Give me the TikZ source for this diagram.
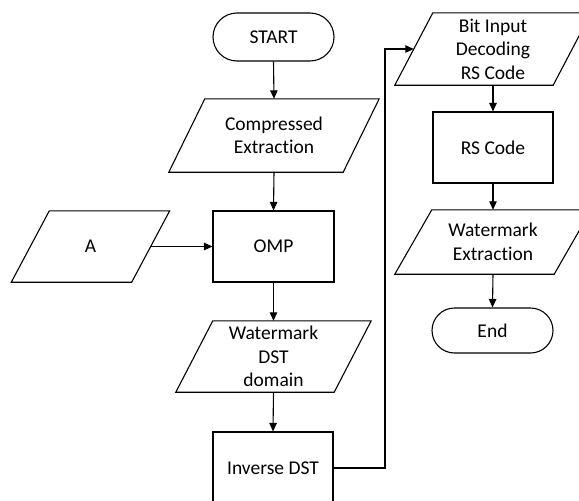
\documentclass[tikz,border=0pt]{standalone}
\usepackage{fontspec}
\setmainfont{Carlito}[Ligatures=NoCommon]
\usetikzlibrary{arrows.meta,shapes.misc}
\begin{document}
\begin{tikzpicture}[x=1pt,y=-1pt,
  every node/.style={font=\fontsize{19.5}{23.5}\selectfont, align=center, inner sep=0pt},
  base/.style={line width=1.1pt},
  procbox/.style={base, draw, rectangle},
  termbox/.style={base, draw, rounded rectangle},
  iobox/.style={rectangle},
  conn/.style={base, -{Triangle[length=8.5pt,width=7.5pt]}}
]
\useasboundingbox (0,0) rectangle (579,501);
\clip (0,0) rectangle (579,501);

% terminators and process boxes
\node[termbox, minimum width=121pt, minimum height=48pt] (start) at (273.5,37) {START};
\node[procbox, minimum width=121pt, minimum height=71pt] (omp) at (273.5,246.5) {OMP};
\node[procbox, minimum width=120pt, minimum height=72pt] (inv) at (273,468) {Inverse DST};
\node[procbox, minimum width=120pt, minimum height=71pt] (rs) at (493,147.5) {RS Code};
\node[termbox, minimum width=121pt, minimum height=45pt] (end) at (492.5,330.5) {End};

% input/output boxes (drawn as parallelograms)
\node[iobox, minimum width=174pt, minimum height=73pt] (comp) at (274,135.5) {Compressed\\Extraction};
\node[iobox, minimum width=120pt, minimum height=71pt] (a) at (90.5,246.5) {A};
\node[iobox, minimum width=158pt, minimum height=71pt] (wdst) at (273.5,356.5) {Watermark\\DST\\domain};
\node[iobox, minimum width=158pt, minimum height=72pt] (bit) at (493,49) {Bit Input\\Decoding\\RS Code};
\node[iobox, minimum width=159pt, minimum height=64pt] (wext) at (493,242) {Watermark\\Extraction};

\foreach \n/\s in {comp/36, a/38, wdst/37, bit/38, wext/37}{
  \draw[base] ([xshift=\s/2*1pt]\n.north west) -- ([xshift=\s/2*1pt]\n.north east)
    -- ([xshift=-\s/2*1pt]\n.south east) -- ([xshift=-\s/2*1pt]\n.south west) -- cycle;
}

% connectors
\coordinate (turn) at (385,49);
\draw[conn] (start.south) -- (comp.north);
\draw[conn] (comp.south) -- (omp.north);
\draw[conn] (a.east) -- (omp.west);
\draw[conn] (omp.south) -- (wdst.north);
\draw[conn] (wdst.south) -- (inv.north);
\draw[conn] (inv.east) -| (turn) -- (bit.west);
\draw[conn] (bit.south) -- (rs.north);
\draw[conn] (rs.south) -- (wext.north);
\draw[conn] (wext.south) -- (end.north);
\end{tikzpicture}
\end{document}
